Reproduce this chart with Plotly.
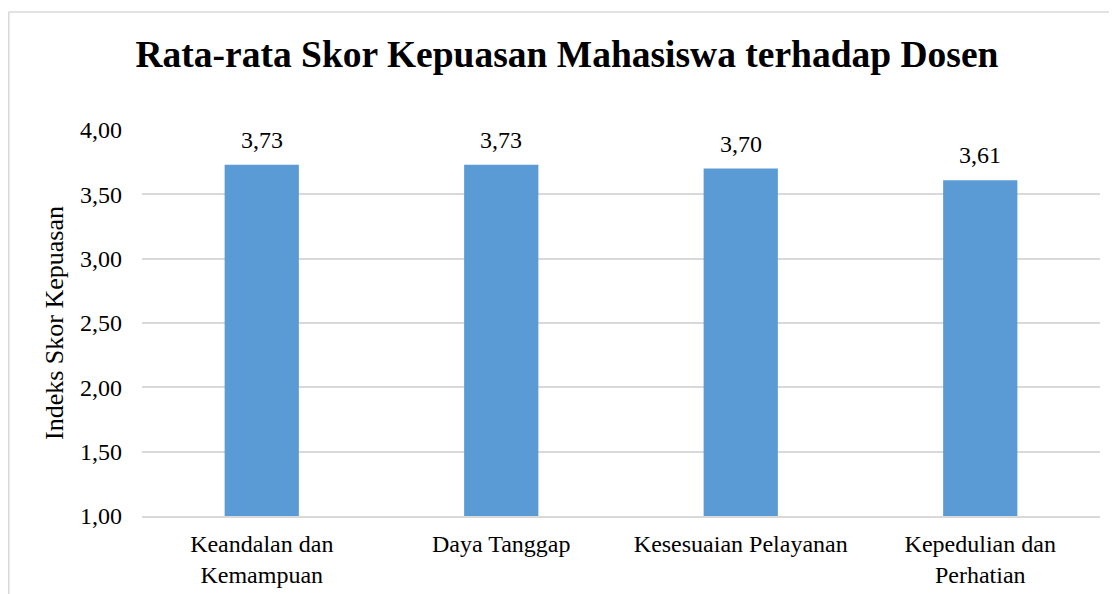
import plotly.graph_objects as go

categories = ["Keandalan dan<br>Kemampuan", "Daya Tanggap", "Kesesuaian Pelayanan", "Kepedulian dan<br>Perhatian"]
values = [3.73, 3.73, 3.70, 3.61]
y_ticks = [1.0, 1.5, 2.0, 2.5, 3.0, 3.5, 4.0]

FONT = "Liberation Serif, Times New Roman, serif"
BAR = "#5B9BD5"
GRID = "#D9D9D9"

fig = go.Figure()
fig.add_trace(go.Bar(
    x=categories, y=values, base=0,
    marker=dict(color=BAR, line=dict(width=0)),
    hoverinfo="skip",
))

for c, v in zip(categories, values):
    fig.add_annotation(
        x=c, y=v, text=f"{v:.2f}".replace(".", ","), showarrow=False,
        yanchor="bottom", yshift=10,
        font=dict(family=FONT, size=24, color="#000000"),
    )

# figure is placed at (8, 8) in the page by the body margin
W, H = 1109, 586
L, R, T, B = 134, 17, 122, 78
pw, ph = W - L - R, H - T - B

def px_x(x):
    return (x - L) / pw

def px_y(y):
    return (H - B - y) / ph

# outer chart border (top and left visible)
fig.add_shape(type="line", xref="paper", yref="paper",
              x0=px_x(0.8), x1=px_x(W + 5), y0=px_y(4), y1=px_y(4),
              line=dict(color=GRID, width=1.5))
fig.add_shape(type="line", xref="paper", yref="paper",
              x0=px_x(0.8), x1=px_x(0.8), y0=px_y(4), y1=px_y(H + 5),
              line=dict(color=GRID, width=1.5))

fig.update_layout(
    width=W, height=H,
    margin=dict(l=L, r=R, t=T, b=B),
    paper_bgcolor="white", plot_bgcolor="white",
    separators=",.",
    bargap=0.69,
    showlegend=False,
    font=dict(family=FONT, size=24, color="#000000"),
    title=dict(
        text="<b>Rata-rata Skor Kepuasan Mahasiswa terhadap Dosen</b>",
        x=559 / W, xref="container", xanchor="center",
        y=1 - 46 / H, yref="container", yanchor="middle",
        font=dict(family=FONT, size=37.5, color="#000000"),
    ),
    xaxis=dict(
        showgrid=False, showline=True, linecolor=GRID, linewidth=1.5,
        ticks="", ticklabelstandoff=5,
        tickfont=dict(family=FONT, size=24, color="#000000"),
        automargin=False,
    ),
    yaxis=dict(
        range=[1, 4], tickvals=y_ticks, tickformat=".2f",
        showgrid=True, gridcolor=GRID, gridwidth=1.5,
        zeroline=False, showline=False, ticks="",
        ticklabelstandoff=19,
        tickfont=dict(family=FONT, size=24, color="#000000"),
        title=dict(text="Indeks Skor Kepuasan", standoff=8,
                   font=dict(family=FONT, size=26, color="#000000")),
        automargin=False,
    ),
)

fig.write_html("out.html")
